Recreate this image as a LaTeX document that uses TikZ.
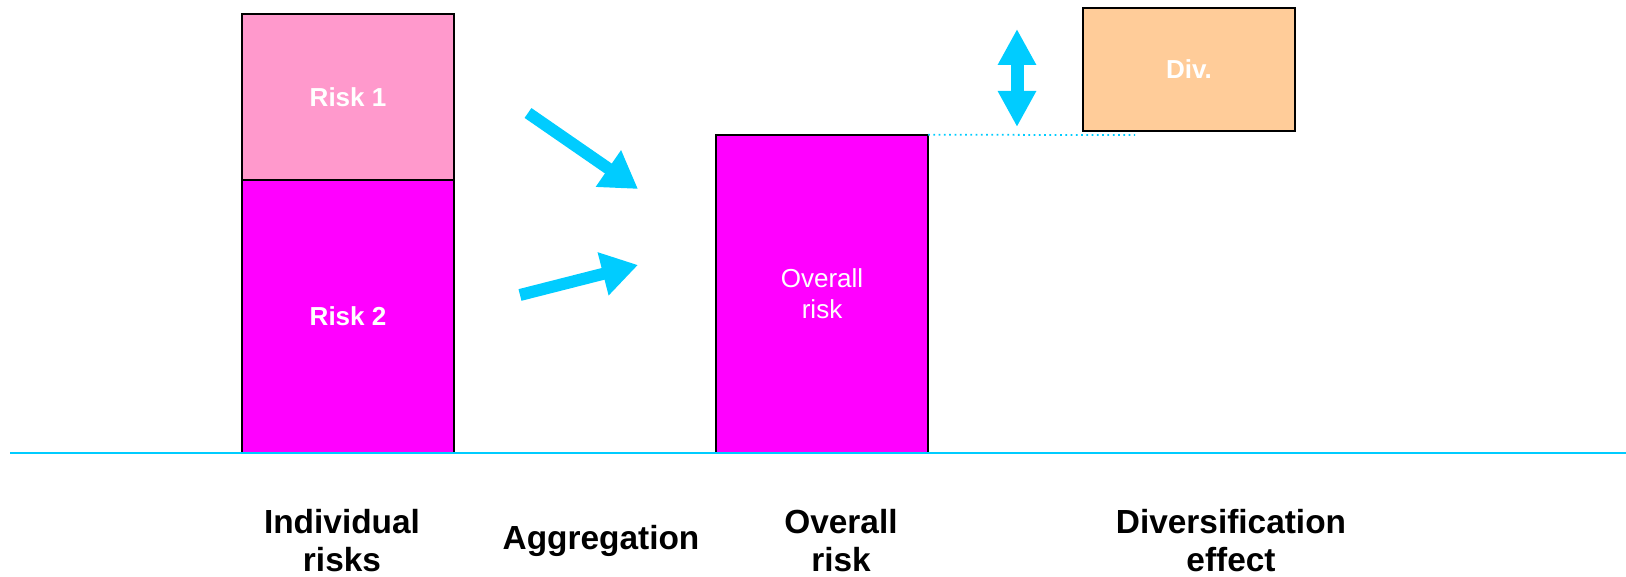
\documentclass[tikz,border=0pt]{standalone}
\usepackage{fontspec}
\setmainfont{Liberation Sans}
\usepackage{xcolor}
\definecolor{riskpink}{HTML}{FF99CC}
\definecolor{riskmagenta}{HTML}{FF00FF}
\definecolor{divpeach}{HTML}{FFCC99}
\definecolor{flowcyan}{HTML}{00CCFF}
\usepackage{tikz}
\usetikzlibrary{arrows.meta, positioning}

\begin{document}
\begin{tikzpicture}[x=0.01cm, y=0.01cm,
    bar/.style={draw=black, line width=0.5pt, inner sep=0pt, outer sep=0pt,
      minimum width=2.12cm, text=white, align=center},
    barlabel/.style={font=\fontsize{7.4}{8.8}\selectfont\bfseries},
    caption/.style={align=center, font=\fontsize{9.5}{10.8}\selectfont\bfseries},
    bigarrow/.style={flowcyan, line width=0.12cm,
      -{Triangle[width=0.42cm, length=0.36cm]}},
    updown/.style={flowcyan, line width=0.13cm,
      {Triangle[width=0.36cm, length=0.36cm]}-{Triangle[width=0.36cm, length=0.36cm]}}]
  \useasboundingbox (0, 0) rectangle (1626, 577);

  % --- Individual risks ---
  \node[bar, fill=riskmagenta, minimum height=2.73cm, anchor=south west,
    barlabel] (risk2) at (242, 124) {Risk 2};
  \node[bar, fill=riskpink, minimum height=1.66cm, anchor=south west,
    barlabel] (risk1) at (risk2.north west) {Risk 1};

  % --- Overall risk ---
  \node[bar, fill=riskmagenta, minimum height=3.18cm, anchor=south west,
    font=\fontsize{7.4}{8.8}\selectfont] (overall) at (716, 124) {Overall\\risk};

  % --- Diversification ---
  \node[bar, fill=divpeach, minimum height=1.23cm, anchor=south west,
    barlabel] (div) at (1083, 446) {Div.};
  \coordinate (levelend) at (1135, 442);
  \draw[flowcyan, line width=0.5pt, dash pattern=on 0.5pt off 1pt]
    (overall.north east) -- (levelend);

  % Double arrow for the gap
  \coordinate (gaplow) at (1017, 450);
  \coordinate (gaphigh) at (1017, 548);
  \draw[updown] (gaplow) -- (gaphigh);

  % Aggregation arrows
  \coordinate (fromrisk1) at (528, 464);
  \coordinate (torisk1) at (638, 388);
  \coordinate (fromrisk2) at (520, 282);
  \coordinate (torisk2) at (638, 312);
  \draw[bigarrow] (fromrisk1) -- (torisk1);
  \draw[bigarrow] (fromrisk2) -- (torisk2);

  % Ground line
  \coordinate (groundleft) at (10, 124);
  \coordinate (groundright) at (1626, 124);
  \draw[flowcyan, line width=0.6pt] (groundleft) -- (groundright);

  % --- Captions ---
  \node[caption] (capind) at (342, 36) {Individual\\risks};
  \node[caption] (capagg) at (601, 36) {Aggregation};
  \node[caption] (capover) at (841, 36) {Overall\\risk};
  \node[caption] (capdiv) at (1231, 36) {Diversification\\effect};
\end{tikzpicture}
\end{document}
